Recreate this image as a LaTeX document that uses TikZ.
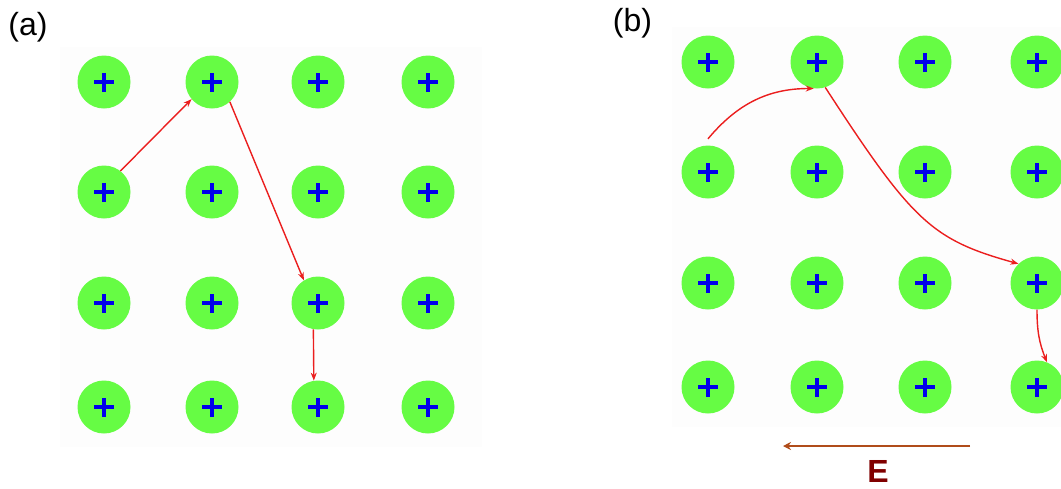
\documentclass[tikz,border=0pt]{standalone}
\usepackage{fontspec}
\setmainfont{Liberation Sans}
\usetikzlibrary{arrows.meta}
\definecolor{iongreen}{RGB}{102,252,68}
\definecolor{plusblue}{RGB}{0,0,235}
\definecolor{pathred}{RGB}{235,30,30}
\definecolor{fieldbrown}{RGB}{176,76,26}
\definecolor{labelred}{RGB}{128,0,0}
\definecolor{panelbg}{RGB}{253,253,253}
\begin{document}
\begin{tikzpicture}[x=1pt,y=1pt,
  ionball/.style={circle, fill=iongreen, minimum size=53pt, inner sep=0pt,
    path picture={
      \draw[plusblue, line width=4pt] ([xshift=-10pt]path picture bounding box.center) -- ([xshift=10pt]path picture bounding box.center);
      \draw[plusblue, line width=4pt] ([yshift=-9.5pt]path picture bounding box.center) -- ([yshift=9.5pt]path picture bounding box.center);
    }},
  hop/.style={draw=pathred, line width=1.4pt, -{Stealth[length=8pt,width=6pt]}},
  panellabel/.style={font=\fontsize{32}{38}\selectfont, inner sep=0pt},
  fieldarrow/.style={draw=fieldbrown, line width=2pt, -{Stealth[length=8pt,width=8pt]}}
]
\useasboundingbox (0,0) rectangle (1061,-488);
\fill[white] (0,0) rectangle (1061,-488);
\fill[panelbg] (60,-47) rectangle (482,-447);
\fill[panelbg] (672,-27) rectangle (1061,-427);

% panel (a)
\foreach \r/\yy in {1/82,2/192,3/303,4/407}{
  \foreach \c/\xx in {1/104,2/212,3/318,4/428}{
    \node[ionball] (a\r\c) at (\xx,-\yy) {};
  }
}
% panel (b)
\foreach \r/\yy in {1/62,2/172,3/283,4/387}{
  \foreach \c/\xx in {1/708,2/817,3/925,4/1037}{
    \node[ionball] (b\r\c) at (\xx,-\yy) {};
  }
}

\node[panellabel] (lab) at (28,-27.5) {(a)};
\node[panellabel] (lbb) at (632.5,-23) {(b)};

% hops in (a)
\draw[hop] (a21.52) -- (a12.-140);
\draw[hop] (a12.-48) -- (a33.122);
\draw[hop] (a33.-100) -- (a43.99);

% hops in (b)
\coordinate (bstart) at ([yshift=6.5pt]b21.north);
\draw[hop] (bstart) to[out=50,in=180] (b12.-97);
\draw[hop] (b12.-72) .. controls +(-57:160pt) and +(164.5:90pt) .. (b34.134);
\draw[hop] (b34.south) to[out=-90,in=112] (b44.68);

% field
\coordinate (eright) at (970,-446);
\coordinate (eleft) at (783,-446);
\draw[fieldarrow] (eright) -- (eleft);
\node[font=\fontsize{32}{38}\selectfont\bfseries, text=labelred, inner sep=0pt] (elabel) at (878,-471.5) {E};
\end{tikzpicture}
\end{document}
